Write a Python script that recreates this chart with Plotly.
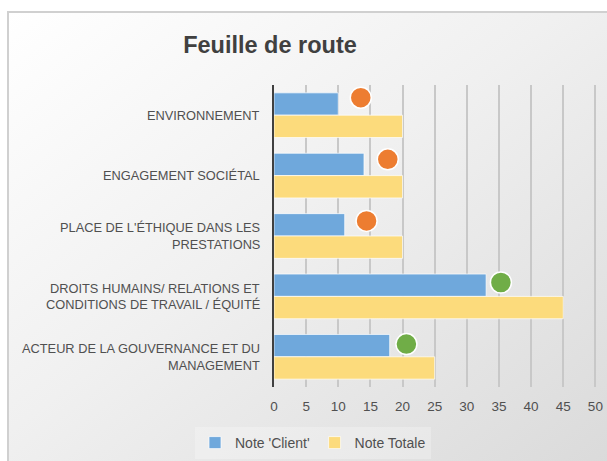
import plotly.graph_objects as go
import urllib.parse

# ---------------- data ----------------
categories = [
    "ENVIRONNEMENT",
    "ENGAGEMENT SOCIÉTAL",
    "PLACE DE L'ÉTHIQUE DANS LES<br>PRESTATIONS",
    "DROITS HUMAINS/ RELATIONS ET<br>CONDITIONS DE TRAVAIL / ÉQUITÉ",
    "ACTEUR DE LA GOUVERNANCE ET DU<br>MANAGEMENT",
]
note_client = [10, 14, 11, 33, 18]
note_totale = [20, 20, 20, 45, 25]
indicator_x = [13.5, 17.7, 14.4, 35.3, 20.6]
indicator_level = [4.79, 3.77, 2.75, 1.73, 0.71]   # secondary axis 0..5
indicator_colors = ["#ED7D31", "#ED7D31", "#ED7D31", "#70AD47", "#70AD47"]
x_ticks = [0, 5, 10, 15, 20, 25, 30, 35, 40, 45, 50]

FONT = "Liberation Sans, Arial, sans-serif"
TXT = "#505050"

W, H = 607, 461
L, R, T, B = 274, 10, 85, 74
pw, ph = W - L - R, H - T - B

def px2paper_x(px):
    return (px - L) / pw

def px2paper_y(py):
    return (H - B - py) / ph

fig = go.Figure()
fig.add_trace(go.Bar(
    y=categories, x=note_client, orientation="h", name="Note 'Client'",
    marker=dict(color="#6FA8DC", line=dict(color="rgba(255,255,255,0.7)", width=1)),
))
fig.add_trace(go.Bar(
    y=categories, x=note_totale, orientation="h", name="Note Totale",
    marker=dict(color="#FCDB7C", line=dict(color="rgba(255,255,255,0.7)", width=1)),
))
fig.add_trace(go.Scatter(
    x=indicator_x, y=indicator_level, yaxis="y2", mode="markers", showlegend=False,
    marker=dict(size=21, color=indicator_colors, line=dict(color="white", width=1.5)),
))

# background gradient + frame (svg image)
x0, y0, x1, y1 = 7, 11, 625, 480
svg = (
    f'<svg xmlns="http://www.w3.org/2000/svg" width="{x1-x0}" height="{y1-y0}">'
    '<defs><linearGradient id="g" x1="0" y1="0" x2="1" y2="1">'
    '<stop offset="0" stop-color="#ffffff"/><stop offset="0.45" stop-color="#f0f0f0"/>'
    '<stop offset="1" stop-color="#d9d9d9"/></linearGradient></defs>'
    f'<rect x="1" y="1" width="{x1-x0-2}" height="{y1-y0-2}" fill="url(#g)" stroke="#d0d0d0" stroke-width="2"/>'
    '</svg>'
)
src = "data:image/svg+xml;charset=utf-8," + urllib.parse.quote(svg)

annotations = []
for cat in categories:
    lines = cat.split("<br>")
    n = len(lines)
    for i, ln in enumerate(lines):
        shift = ((n - 1) / 2 - i) * 16.5
        annotations.append(dict(
            x=0, xref="paper", y=cat, yref="y", text=ln, showarrow=False,
            xanchor="right", yanchor="middle", xshift=-12, yshift=shift,
            font=dict(family=FONT, size=12.8, color=TXT),
        ))

fig.update_layout(
    width=W, height=H,
    margin=dict(l=L, r=R, t=T, b=B, pad=0, autoexpand=False),
    paper_bgcolor="white", plot_bgcolor="rgba(0,0,0,0)",
    barmode="group", bargap=0.26, bargroupgap=0.0,
    title=dict(text="<b>Feuille de route</b>", xref="container", yref="container",
               x=270 / W, y=1 - 45 / H, xanchor="center", yanchor="middle",
               font=dict(family=FONT, size=23.5, color="#404040")),
    xaxis=dict(range=[0, 50.25], tickvals=x_ticks, showgrid=True, gridcolor="#c8c8c8",
               gridwidth=1.5, zeroline=False, showline=False, ticks="",
               tickfont=dict(family=FONT, size=13.5, color=TXT), ticklabelstandoff=9,
               fixedrange=True),
    yaxis=dict(autorange="reversed", showticklabels=False, showgrid=False, zeroline=False,
               showline=True, linecolor="#404040", linewidth=2, ticks=""),
    yaxis2=dict(overlaying="y", range=[0, 5], visible=False),
    legend=dict(orientation="h", xref="container", yref="container",
                x=313 / W, y=1 - 443 / H, xanchor="center", yanchor="middle",
                bgcolor="rgba(255,255,255,0.25)", font=dict(family=FONT, size=14, color=TXT),
                itemwidth=30, traceorder="normal"),
    annotations=annotations,
    images=[dict(source=src, xref="paper", yref="paper",
                 x=px2paper_x(x0), y=px2paper_y(y0),
                 sizex=(x1 - x0) / pw, sizey=(y1 - y0) / ph,
                 xanchor="left", yanchor="top", sizing="stretch", layer="below")],
    showlegend=True,
)

fig.write_html("out.html")
